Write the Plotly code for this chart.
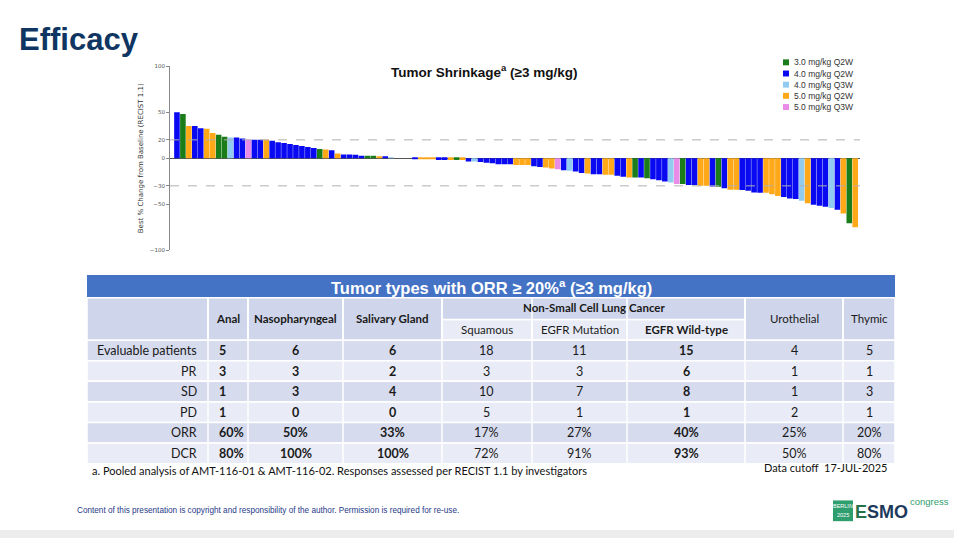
import plotly.graph_objects as go

W, H = 954, 541

# best % change from baseline per patient (sorted waterfall)
change = [50, 48, 35, 35, 32.5, 32, 27.5, 25.5, 23.5, 22.5,
          22.5, 21.5, 20.5, 20, 20, 20, 19, 17.5, 16.5, 15.5,
          14.5, 13.3, 12.3, 11.2, 10.2, 9.5, 8.8, 5.3, 4.2, 4.2,
          3.9, 2.8, 2.8, 2.8, 1.8, 1.4, 0.7, 0, 0, 0,
          -0.5, -0.8, -0.8, -1, -2, -2, -2, -2, -2, -3.5,
          -3.5, -4, -5, -5.4, -6.5, -6.5, -6.5, -7.2, -7.2, -7.2,
          -8.7, -9.4, -10, -11, -12, -13, -13.7, -14.4, -16, -16.6,
          -17.3, -17.3, -18, -18, -19, -20, -21, -21, -21, -21.7,
          -22.7, -23.8, -25.4, -26.4, -28, -28, -29, -29, -30, -30,
          -30.7, -31, -32.5, -34.3, -34.3, -34.5, -35.4, -37.2, -37.5, -37.5,
          -39, -41, -42, -43.7, -44.4, -46.2, -49, -50.5, -51.6, -52.7,
          -54, -56, -60, -70.8, -75]
dose = ["B", "G", "O", "B", "B", "O", "O", "G", "G", "L",
        "B", "B", "P", "B", "B", "O", "B", "B", "B", "B",
        "B", "B", "B", "B", "G", "O", "B", "O", "B", "B",
        "B", "B", "G", "G", "O", "B", "L", "B", "B", "B",
        "B", "O", "O", "O", "B", "B", "O", "G", "O", "B",
        "L", "B", "B", "B", "B", "B", "B", "O", "O", "O",
        "B", "B", "O", "O", "P", "B", "L", "B", "B", "O",
        "B", "B", "O", "O", "B", "B", "O", "G", "B", "G",
        "B", "B", "B", "L", "P", "G", "B", "B", "O", "O",
        "B", "G", "B", "O", "O", "B", "B", "B", "B", "O",
        "O", "O", "B", "B", "B", "L", "O", "B", "B", "B",
        "L", "B", "O", "G", "O"]

group_codes = ["G", "B", "L", "O", "P"]
group_names = ["3.0 mg/kg Q2W", "4.0 mg/kg Q2W", "4.0 mg/kg Q3W", "5.0 mg/kg Q2W", "5.0 mg/kg Q3W"]
group_colors = ["#1a7d1a", "#0a0af2", "#92cbf0", "#ffa818", "#e88ce8"]
y_ticks = [-100, -50, -30, 0, 20, 50, 100]

# table
tumor_cols = ["Anal", "Nasopharyngeal", "Salivary Gland", "Squamous", "EGFR Mutation",
              "EGFR Wild-type", "Urothelial", "Thymic"]
bold_cols = [True, True, True, False, False, True, False, False]
row_labels = ["Evaluable patients", "PR", "SD", "PD", "ORR", "DCR"]
evaluable = [5, 6, 6, 18, 11, 15, 4, 5]
pr = [3, 3, 2, 3, 3, 6, 1, 1]
sd = [1, 3, 4, 10, 7, 8, 1, 3]
pd_ = [1, 0, 0, 5, 1, 1, 2, 1]
orr = ["60%", "50%", "33%", "17%", "27%", "40%", "25%", "20%"]
dcr = ["80%", "100%", "100%", "72%", "91%", "93%", "50%", "80%"]
rows = [evaluable, pr, sd, pd_, orr, dcr]

fig = go.Figure()

for code, name, color in zip(group_codes, group_names, group_colors):
    xs = [i for i, d in enumerate(dose) if d == code]
    ys = [change[i] for i in xs]
    fig.add_trace(go.Bar(x=xs, y=ys, name=name, marker_color=color, width=0.94,
                         marker_line_width=0, showlegend=False))

fig.add_hline(y=20, line=dict(color="#b0b0b0", width=1, dash="dash"))
fig.add_hline(y=-30, line=dict(color="#b0b0b0", width=1, dash="dash"))


def px(x):
    return x / W


def py(y):
    return 1 - y / H


def rect(x0, y0, x1, y1, fill, lw=1.5):
    fig.add_shape(type="rect", xref="paper", yref="paper",
                  x0=px(x0), x1=px(x1), y0=py(y1), y1=py(y0),
                  fillcolor=fill, line=dict(color="white", width=lw), layer="below")


def text(x, y, s, size=12, color="#1a1a1a", family="Lato", xanchor="center"):
    fig.add_annotation(x=px(x), y=py(y), xref="paper", yref="paper", text=s,
                       showarrow=False, xanchor=xanchor, yanchor="middle",
                       font=dict(size=size, color=color, family=family))


# compact legend, drawn like the original
for i, (name, color) in enumerate(zip(group_names, group_colors)):
    yy = 60 + i * 11.3
    fig.add_shape(type="rect", xref="paper", yref="paper",
                  x0=px(783), x1=px(789), y0=py(yy + 3), y1=py(yy - 3),
                  fillcolor=color, line=dict(width=0))
    text(792, yy, name, size=8.5, color="#333", family="Liberation Sans", xanchor="left")

text(484, 69, "<b>Tumor Shrinkage<sup>a</sup> (≥3 mg/kg)</b>", size=13.5, color="#111",
     family="Liberation Sans")

# slide title
text(17, 37, "<b>Efficacy</b>", size=31, color="#0f3562", family="Liberation Sans", xanchor="left")

# table geometry
edges = [87, 208, 248, 343, 442, 532, 627, 745, 843, 895]
head = "#cfd5ea"
dark = "#d6dbee"
light = "#e9ecf6"

rect(87, 275, 895, 298, "#4472c4", lw=0)
text(491, 287, "<b>Tumor types with ORR ≥ 20%<sup>a</sup> (≥3 mg/kg)</b>", size=16.5,
     color="white", family="Liberation Sans")

rect(edges[0], 298, edges[1], 341, head)
for j, name in enumerate(tumor_cols):
    x0, x1 = edges[j + 1], edges[j + 2]
    cx = (x0 + x1) / 2
    label = "<b>" + name + "</b>" if bold_cols[j] else name
    if 3 <= j <= 5:
        rect(x0, 320, x1, 341, light)
        text(cx, 330, label, size=11.5)
    else:
        rect(x0, 298, x1, 341, head)
        text(cx, 319, label, size=11.5)
rect(edges[4], 298, edges[7], 320, head)
text((edges[4] + edges[7]) / 2, 308, "<b>Non-Small Cell Lung Cancer</b>", size=11.5)

row_h = 20.8
for r, (lab, vals) in enumerate(zip(row_labels, rows)):
    y0 = 341 + r * row_h
    fill = dark if r % 2 == 0 else light
    rect(edges[0], y0, edges[-1], y0 + row_h, fill)
    cy = y0 + row_h / 2
    text(199, cy, lab, size=12.5, xanchor="right")
    for j, v in enumerate(vals):
        cx = (edges[j + 1] + edges[j + 2]) / 2
        s = "<b>%s</b>" % v if bold_cols[j] else str(v)
        if j == 0:
            text(edges[1] + 9, cy, s, size=12.5, xanchor="left")
        else:
            text(cx, cy, s, size=12.5)
# column separators in the body
for e in edges[1:-1]:
    fig.add_shape(type="line", xref="paper", yref="paper", x0=px(e), x1=px(e),
                  y0=py(466), y1=py(298), line=dict(color="white", width=1.5), layer="below")

text(90, 473, "a. Pooled analysis of AMT-116-01 &amp; AMT-116-02. Responses assessed per RECIST 1.1 by investigators",
     size=11, color="#111", xanchor="left")
text(762, 470, "Data cutoff&nbsp; 17-JUL-2025", size=11, color="#111", xanchor="left")

text(75, 513, "Content of this presentation is copyright and responsibility of the author. Permission is required for re-use.",
     size=8.2, color="#1f3a8a", family="Liberation Sans", xanchor="left")

# congress logo
fig.add_shape(type="rect", xref="paper", yref="paper", x0=px(833), x1=px(853), y0=py(524), y1=py(503),
              fillcolor="#2f9e6e", line=dict(width=0))
text(843, 509, "BERLIN", size=5.5, color="white", family="Liberation Sans")
text(843, 518, "2025", size=5.5, color="white", family="Liberation Sans")
text(853, 515, "<b><span style='color:#26704a'>E</span>SMO</b>", size=18, color="#1d3a5c",
     family="Liberation Sans", xanchor="left")
text(908, 504, "congress", size=9.5, color="#2f9e6e", family="Liberation Sans", xanchor="left")

fig.add_shape(type="rect", xref="paper", yref="paper", x0=0, x1=1, y0=0, y1=py(533),
              fillcolor="#ededed", line=dict(width=0), layer="below")

fig.update_layout(
    width=W, height=H,
    margin=dict(l=0, r=0, t=0, b=0),
    paper_bgcolor="white", plot_bgcolor="white",
    barmode="overlay",
    xaxis=dict(domain=[px(170), px(860)], range=[-1.17, 114.8], visible=False),
    yaxis=dict(domain=[py(250), py(64)], range=[-100, 100], tickvals=y_ticks,
               ticks="outside", ticklen=3, tickcolor="#888",
               tickfont=dict(size=5.5, color="#555", family="DejaVu Sans"),
               showline=True, linecolor="#888", linewidth=1, showgrid=False,
               zeroline=True, zerolinecolor="#555", zerolinewidth=1,
               title=dict(text="Best % Change from Baseline (RECIST 1.1)", standoff=5,
                          font=dict(size=7, color="#333", family="DejaVu Sans"))),
    font=dict(family="Lato"),
)

# the slide fills the whole window, so drop the default page margin
fig.write_html("out.html", config={"displayModeBar": False},
               post_script="document.body.style.margin='0';")
